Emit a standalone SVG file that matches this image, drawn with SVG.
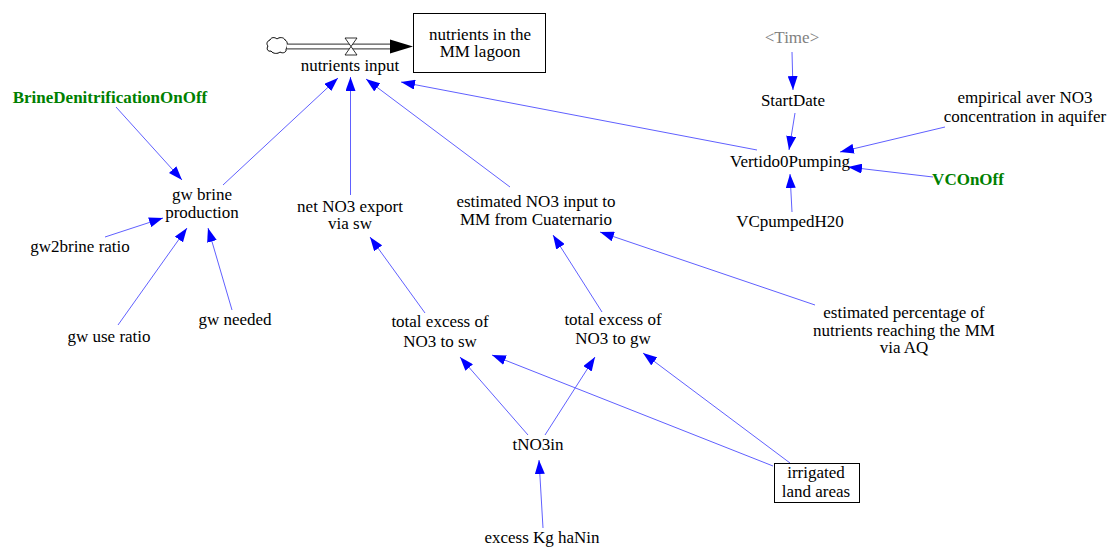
<svg xmlns="http://www.w3.org/2000/svg" width="1112" height="547" viewBox="0 0 1112 547">
  <style>
    text { font-family: 'Liberation Serif', 'Times New Roman', Times, 'DejaVu Serif', serif; font-size: 17px; fill: #000; text-anchor: middle; }
    .sw { fill: #008000; font-weight: bold; }
    .shadow { fill: #808080; }
    .link { fill: none; stroke: #6060ff; stroke-width: 1; marker-end: url(#ah); }
    .box { fill: #fff; stroke: #000; stroke-width: 1; }
  </style>
  <defs>
    <marker id="ah" viewBox="0 0 14 10" refX="14" refY="5" markerWidth="14" markerHeight="10" markerUnits="userSpaceOnUse" orient="auto">
      <path d="M0,0 L14,5 L0,10 z" fill="#0000ff"/>
    </marker>
  </defs>
  <rect width="1112" height="547" fill="#fff"/>

  <!-- influence links -->
  <g id="connectors">
    <path class="link" d="M116,107 L182,180"/>
    <path class="link" d="M223,185 L338,78"/>
    <path class="link" d="M105,237 L163,218"/>
    <path class="link" d="M118,325 L187,228"/>
    <path class="link" d="M232,310 L208,228"/>
    <path class="link" d="M350.5,195 L350.5,77"/>
    <path class="link" d="M510,187 L366,79"/>
    <path class="link" d="M757,150 L401,82"/>
    <path class="link" d="M792,52 L793,90"/>
    <path class="link" d="M795,113 L789,150"/>
    <path class="link" d="M945,127 L840,152"/>
    <path class="link" d="M933,177 L848,167"/>
    <path class="link" d="M792,212 L790,174"/>
    <path class="link" d="M425,313 L370,237"/>
    <path class="link" d="M602,312 L553,235"/>
    <path class="link" d="M815,305 L600,232"/>
    <path class="link" d="M528,435 L460,357"/>
    <path class="link" d="M545,435 L595,357"/>
    <path class="link" d="M773,466 L492,355"/>
    <path class="link" d="M790,463 L643,353"/>
    <path class="link" d="M543,528 L539,460"/>
  </g>

  <!-- flow: source cloud, pipe, valve -->
  <g id="flow-nutrients-input">
    <path d="M270,40 C271,37 275,37 277,39 C279,37 284,37 285,40 C288,41 288,47 286,49 C287,52 283,54 280,52 C278,54 273,54 271,51 C268,52 266,49 268,46 C266,44 267,41 270,40 z" fill="#fff" stroke="#000" stroke-width="1"/>
    <path d="M287,46.5 L392,46.5" stroke="#555" stroke-width="6" fill="none"/>
    <path d="M287,46.5 L392,46.5" stroke="#fff" stroke-width="3.4" fill="none"/>
    <path d="M390,39.5 L413,46.5 L390,53.5 z" fill="#000"/>
    <path d="M345,38 L357,38 L351,46.5 z M345,55 L357,55 L351,46.5 z" fill="#fff" stroke="#000" stroke-width="0.8"/>
    <text x="350" y="71">nutrients input</text>
  </g>

  <g id="stock-nutrients-lagoon">
    <rect class="box" x="413.5" y="13.5" width="132" height="59"/>
    <text x="480" y="40">nutrients in the</text>
    <text x="480" y="57">MM lagoon</text>
  </g>

  <g id="n-brine-onoff"><text class="sw" x="110" y="103">BrineDenitrificationOnOff</text></g>
  <g id="n-gw-brine"><text x="202" y="200">gw brine</text><text x="202" y="218">production</text></g>
  <g id="n-gw2brine"><text x="80" y="252">gw2brine ratio</text></g>
  <g id="n-gw-use"><text x="109" y="342">gw use ratio</text></g>
  <g id="n-gw-needed"><text x="235" y="325">gw needed</text></g>
  <g id="n-net-no3"><text x="350" y="212">net NO3 export</text><text x="350" y="229">via sw</text></g>
  <g id="n-est-no3"><text x="536" y="207">estimated NO3 input to</text><text x="536" y="225">MM from Cuaternario</text></g>
  <g id="n-time"><text class="shadow" x="792" y="43">&lt;Time&gt;</text></g>
  <g id="n-startdate"><text x="793" y="106">StartDate</text></g>
  <g id="n-empirical"><text x="1025" y="103">empirical aver NO3</text><text x="1025" y="122">concentration in aquifer</text></g>
  <g id="n-vertido"><text x="790" y="167">Vertido0Pumping</text></g>
  <g id="n-vconoff"><text class="sw" x="968" y="185">VCOnOff</text></g>
  <g id="n-vcpumped"><text x="790" y="227">VCpumpedH20</text></g>
  <g id="n-est-pct"><text x="904" y="318">estimated percentage of</text><text x="904" y="336">nutrients reaching the MM</text><text x="904" y="353">via AQ</text></g>
  <g id="n-excess-sw"><text x="440" y="327">total excess of</text><text x="440" y="347">NO3 to sw</text></g>
  <g id="n-excess-gw"><text x="613" y="325">total excess of</text><text x="613" y="344">NO3 to gw</text></g>
  <g id="n-tno3in"><text x="538" y="450">tNO3in</text></g>
  <g id="n-excess-kg"><text x="542" y="543">excess Kg haNin</text></g>
  <g id="n-irrigated">
    <rect class="box" x="774.5" y="463.5" width="85" height="39"/>
    <text x="816" y="478">irrigated</text>
    <text x="816" y="497">land areas</text>
  </g>
</svg>
